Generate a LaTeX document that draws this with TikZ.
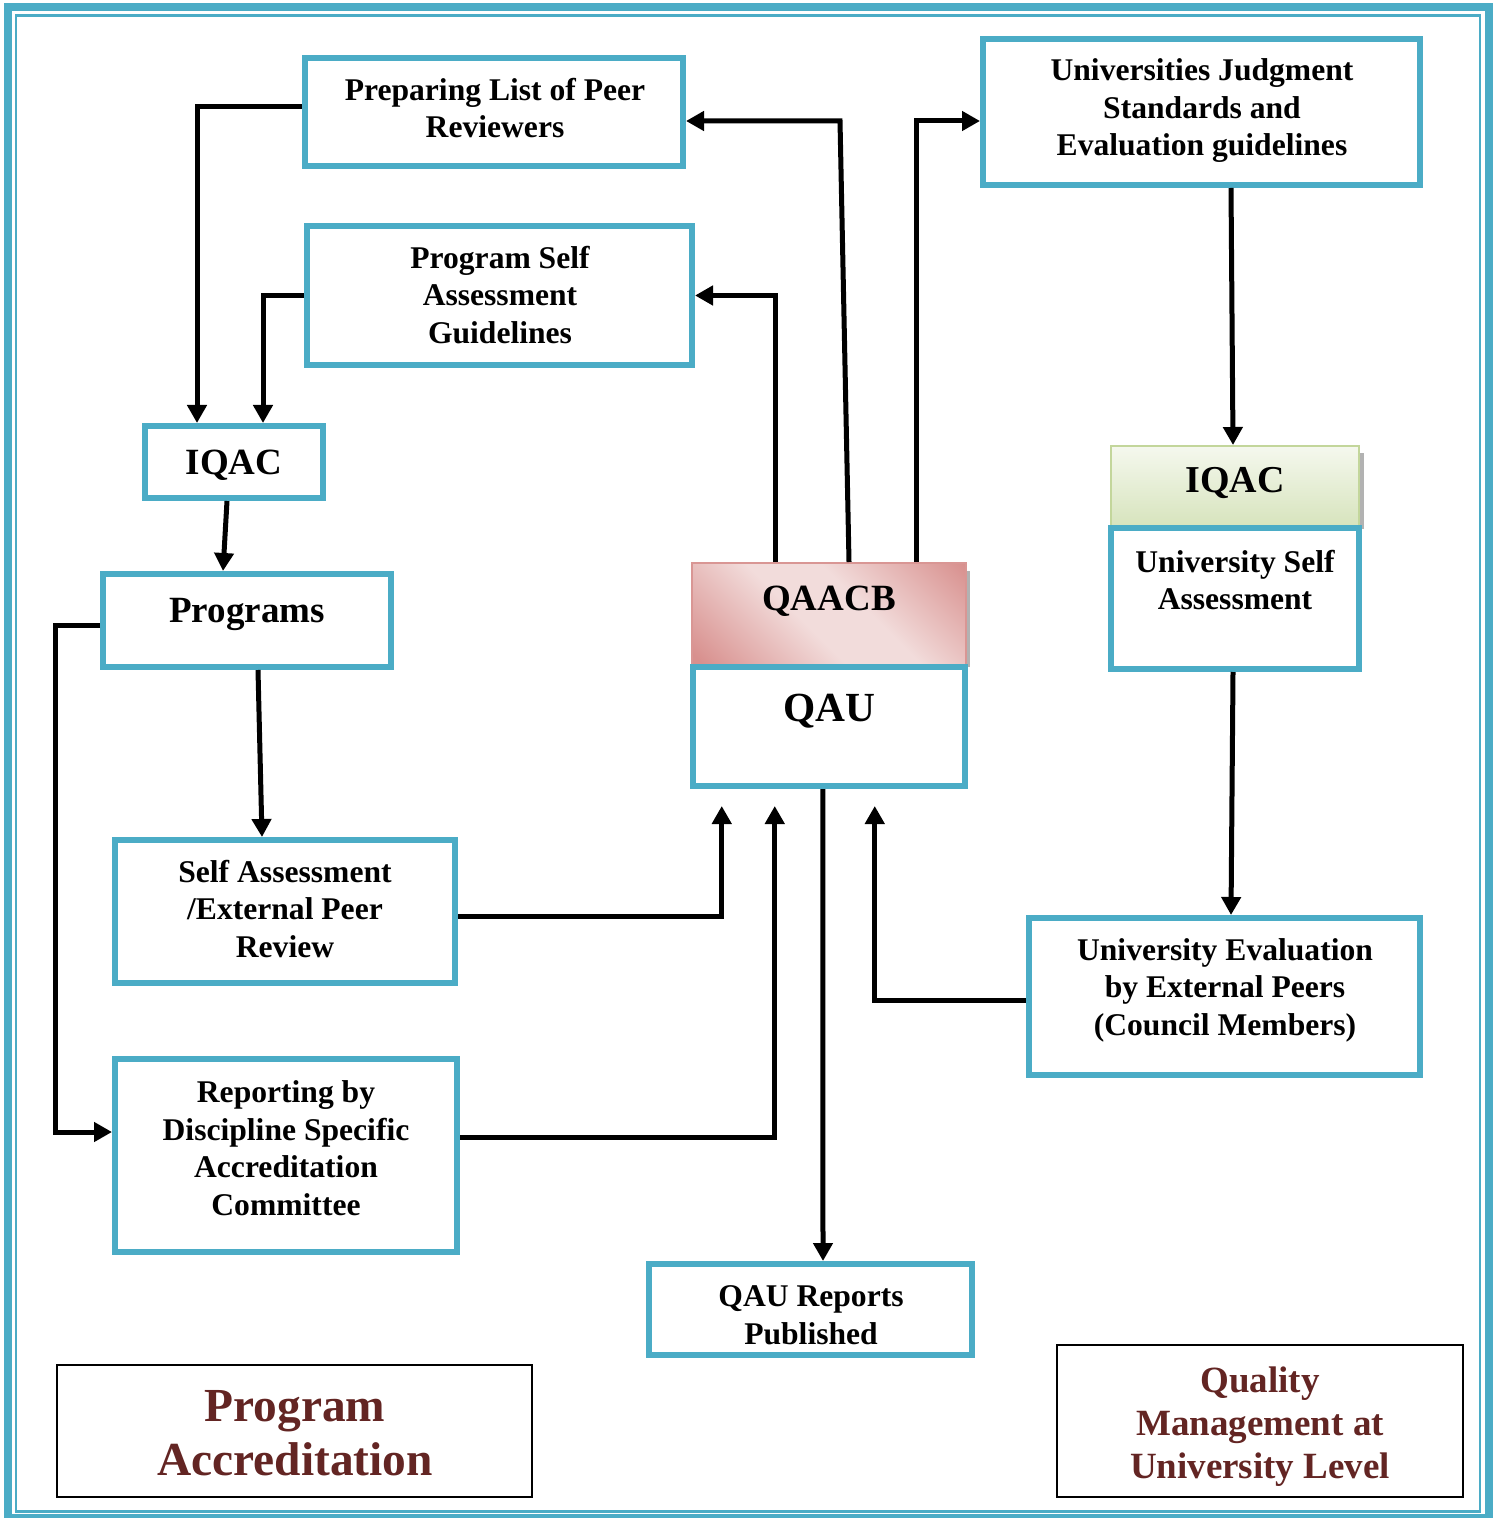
\documentclass[tikz,border=0pt]{standalone}
\usepackage{fontspec}
\setmainfont{Liberation Serif}
\usetikzlibrary{arrows.meta,calc}

\definecolor{frame}{HTML}{4BACC6}
\definecolor{heading}{HTML}{632523}
\definecolor{rdk}{HTML}{D8908E}
\definecolor{rlt}{HTML}{F2DCDB}
\definecolor{rline}{HTML}{D99694}
\definecolor{gtop}{HTML}{F5F8EE}
\definecolor{gbot}{HTML}{D7E4BD}
\definecolor{gline}{HTML}{C3D69B}

% diagonal band: darker at two opposite corners, light across the middle
\pgfdeclarehorizontalshading{redband}{100bp}{color(0bp)=(rdk); color(17bp)=(rdk);
  color(44bp)=(rlt); color(58bp)=(rlt); color(85bp)=(rdk); color(100bp)=(rdk)}

\begin{document}
\begin{tikzpicture}[x=0.5pt,y=-0.5pt,
  box/.style={draw=frame, line width=3pt, fill=white, inner sep=0pt},
  plain/.style={draw=black, line width=1.2pt, fill=white, inner sep=0pt},
  txt/.style={align=center, inner sep=0pt, font=\bfseries\fontsize{15.8}{18.75}\selectfont},
  big/.style={align=center, inner sep=0pt, font=\bfseries\fontsize{18.5}{22}\selectfont},
  ttl/.style={align=center, inner sep=0pt, text=heading},
  ln/.style={line width=2.5pt},
  arr/.style={line width=2.5pt, -{Triangle[width=9.5pt,length=9pt]}}]

\useasboundingbox (0,0) rectangle (1498,1518);

% double page frame
\draw[frame, line width=4pt] (8.3,7.2) rectangle (1488.5,1518);
\draw[frame, line width=1.25pt] (16,15.3) rectangle (1480,1511.5);

% left column: program accreditation
\node[box, minimum width=189pt, minimum height=54pt] (prep) at (494,112) {};
\node[txt] (tprep) at (495,108) {Preparing List of Peer\\Reviewers};

\node[box, minimum width=192.5pt, minimum height=69.5pt] (psag) at (499.5,295.5) {};
\node[txt] (tpsag) at (500,295) {Program Self\\Assessment\\Guidelines};

\node[box, minimum width=89pt, minimum height=36pt] (iqacL) at (234,462) {};
\node[big] (tiqacL) at (234,465) {IQAC};

\node[box, minimum width=144pt, minimum height=46.5pt] (prog) at (247,620.5) {};
\node[big] (tprog) at (247,614) {Programs};

\node[box, minimum width=170pt, minimum height=71.5pt] (sa) at (285,911.5) {};
\node[txt] (tsa) at (285,909) {Self Assessment\\/External Peer\\Review};

\node[box, minimum width=171pt, minimum height=96.5pt] (rep) at (286,1155.5) {};
\node[txt] (trep) at (286,1148) {Reporting by\\Discipline Specific\\Accreditation\\Committee};

% centre: QAACB over QAU
\fill[black!30] (966,571) rectangle (970,667);
\node[shade, shading=redband, shading angle=45, draw=rline, line width=1pt,
      minimum width=137pt, minimum height=52pt, inner sep=0pt] (qaacb) at (829,615) {};
\node[big] (tqaacb) at (829,601) {QAACB};

\node[box, minimum width=135.75pt, minimum height=59.5pt] (qau) at (828.75,726.5) {};
\node[align=center, inner sep=0pt, font=\bfseries\fontsize{20.7}{24}\selectfont] (tqau) at (829,711) {QAU};

\node[box, minimum width=161.5pt, minimum height=45.5pt] (qrp) at (810.5,1309.5) {};
\node[txt] (tqrp) at (811,1315) {QAU Reports\\Published};

% right column: university level
\node[box, minimum width=218.5pt, minimum height=73pt] (ujsg) at (1201.5,112) {};
\node[txt] (tujsg) at (1202,111) {Universities Judgment\\Standards and\\Evaluation guidelines};

\fill[black!30] (1360,453) rectangle (1364,529);
\node[shade, top color=gtop, bottom color=gbot, draw=gline, line width=1pt,
      minimum width=124pt, minimum height=40pt, inner sep=0pt] (iqacR) at (1235,486) {};
\node[big, font=\bfseries\fontsize{19}{22}\selectfont] (tiqacR) at (1235,483) {IQAC};

\node[box, minimum width=124pt, minimum height=70.5pt] (usa) at (1235,598.5) {};
\node[txt] (tusa) at (1235,580) {University Self\\Assessment};

\node[box, minimum width=195.5pt, minimum height=78.5pt] (uev) at (1224.5,996.5) {};
\node[txt] (tuev) at (1225,990) {University Evaluation\\by External Peers\\(Council Members)};

% legend boxes
\node[plain, minimum width=237.5pt, minimum height=66pt] (pa) at (294.5,1431) {};
\node[ttl, font=\bfseries\fontsize{23.7}{27}\selectfont] (tpa) at (295,1433) {Program\\Accreditation};

\node[plain, minimum width=203pt, minimum height=76pt] (qm) at (1260,1421) {};
\node[ttl, font=\bfseries\fontsize{18.5}{21.5}\selectfont] (tqm) at (1260,1427) {Quality\\Management at\\University Level};

% free ends of the three arrows rising towards QAU
\coordinate (inA) at ($(qau.south)+(-107,17)$);
\coordinate (inB) at ($(qau.south)+(-54,17)$);
\coordinate (inC) at ($(qau.south)+(46,17)$);

% connectors
\draw[arr] ($(prep.west)+(0,-5)$) -| ($(iqacL.north)+(-37,0)$);
\draw[arr] (psag.west) -| ($(iqacL.north)+(29,0)$);
\draw[arr] ($(iqacL.south)+(-7,0)$) -- ($(prog.north)+(-24,0)$);
\draw[arr] ($(prog.west)+(0,4.5)$) -- ++(-45,0) |- ($(rep.west)+(0,-23.5)$);
\draw[arr] ($(prog.south)+(11,0)$) -- ($(sa.north)+(-23,0)$);
\draw[arr] ($(sa.east)+(0,4.5)$) -| (inA);
\draw[arr] ($(rep.east)+(0,-18.5)$) -| (inB);
\draw[arr] ($(uev.west)+(0,3.5)$) -| (inC);
\draw[arr] ($(qau.south)+(-6,0)$) -- ($(qrp.north)+(12.5,0)$);
\draw[arr] ($(qaacb.north)+(-54,0)$) |- (psag.east);
\draw[arr] ($(qaacb.north)+(20,0)$) -- ($(prep.east)+(154,9)$) -- ($(prep.east)+(0,9)$);
\draw[arr] ($(qaacb.north)+(87,0)$) |- ($(ujsg.west)+(0,9)$);
\draw[arr] ($(ujsg.south)+(29.5,0)$) -- ($(iqacR.north)+(-2,0)$);
\draw[arr] ($(usa.south)+(-2,0)$) -- ($(uev.north)+(6.5,0)$);
\end{tikzpicture}
\end{document}
